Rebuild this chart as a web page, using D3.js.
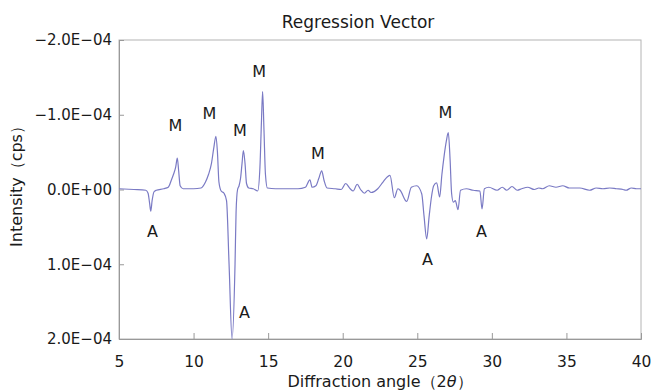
<!DOCTYPE html>
<html>
<head>
<meta charset="utf-8">
<script src="https://cdn.jsdelivr.net/npm/d3@7"></script>
<style>
  body { margin: 0; background: #fff; }
  text { font-family: "DejaVu Sans", sans-serif; fill: #1a1a1a; }
</style>
</head>
<body>
<div id="chart"></div>
<script>
// diffraction angle (2 theta) and regression coefficient
const angles = [
  5.0, 6.0, 6.8, 6.95, 7.05, 7.13, 7.22, 7.35, 7.5, 8.0,
  8.3, 8.5, 8.65, 8.8, 8.91, 9.0, 9.1, 9.3, 10.0, 10.5,
  10.8, 11.0, 11.2, 11.35, 11.5, 11.6, 11.7, 11.85, 12.04, 12.21,
  12.38, 12.58, 12.78, 12.85, 12.95, 13.05, 13.15, 13.25, 13.34, 13.45,
  13.55, 13.7, 14.0, 14.3, 14.45, 14.55, 14.63, 14.72, 14.82, 14.95,
  15.5, 17.0, 17.5, 17.8, 17.95, 18.2, 18.4, 18.59, 18.75, 18.95,
  19.5, 19.9, 20.2, 20.5, 20.7, 20.97, 21.2, 21.46, 21.7, 21.9,
  22.35, 22.7, 23.0, 23.17, 23.46, 23.7, 23.85, 24.29, 24.6, 24.96,
  25.3, 25.45, 25.63, 25.8, 25.95, 26.1, 26.3, 26.5, 26.65, 26.8,
  26.95, 27.08, 27.2, 27.3, 27.42, 27.55, 27.73, 27.9, 28.3, 28.75,
  29.2, 29.34, 29.5, 29.8, 30.35, 30.7, 31.0, 31.35, 31.7, 32.0,
  32.4, 32.85, 33.15, 33.4, 33.85, 34.3, 34.75, 35.2, 35.9, 36.55,
  37.0, 37.45, 37.9, 38.35, 38.8, 39.0, 39.35, 39.7, 40.0
];
const intensity = [
  -0.01e-4, 0.0, 0.01e-4, 0.05e-4, 0.18e-4, 0.29e-4, 0.15e-4, 0.03e-4, 0.01e-4, -0.01e-4,
  -0.03e-4, -0.12e-4, -0.2e-4, -0.3e-4, -0.42e-4, -0.25e-4, -0.05e-4, -0.01e-4, -0.01e-4, -0.02e-4,
  -0.1e-4, -0.2e-4, -0.35e-4, -0.55e-4, -0.71e-4, -0.5e-4, -0.1e-4, 0.02e-4, 0.05e-4, 0.15e-4,
  1.0e-4, 2.0e-4, 1.0e-4, 0.3e-4, 0.0, -0.05e-4, -0.15e-4, -0.35e-4, -0.52e-4, -0.35e-4,
  -0.08e-4, -0.02e-4, -0.01e-4, 0.02e-4, -0.3e-4, -0.9e-4, -1.31e-4, -0.8e-4, -0.2e-4, -0.02e-4,
  -0.01e-4, -0.01e-4, -0.03e-4, -0.13e-4, -0.03e-4, -0.05e-4, -0.15e-4, -0.25e-4, -0.12e-4, -0.02e-4,
  -0.01e-4, 0.0, -0.08e-4, -0.01e-4, 0.02e-4, -0.07e-4, 0.0, 0.05e-4, 0.01e-4, 0.04e-4,
  -0.01e-4, -0.1e-4, -0.17e-4, -0.19e-4, 0.11e-4, -0.01e-4, 0.01e-4, 0.16e-4, -0.03e-4, -0.05e-4,
  0.06e-4, 0.35e-4, 0.66e-4, 0.35e-4, 0.1e-4, -0.05e-4, -0.09e-4, 0.1e-4, -0.2e-4, -0.45e-4,
  -0.65e-4, -0.76e-4, -0.4e-4, 0.05e-4, 0.17e-4, 0.15e-4, 0.27e-4, 0.01e-4, -0.01e-4, 0.01e-4,
  0.02e-4, 0.26e-4, -0.01e-4, -0.03e-4, 0.01e-4, -0.03e-4, 0.01e-4, -0.04e-4, 0.01e-4, -0.01e-4,
  -0.03e-4, 0.0, -0.02e-4, -0.01e-4, -0.05e-4, -0.03e-4, -0.05e-4, -0.02e-4, -0.02e-4, 0.01e-4,
  -0.02e-4, -0.01e-4, -0.02e-4, -0.01e-4, 0.0, 0.01e-4, -0.02e-4, -0.01e-4, -0.01e-4
];

// peak labels (M / A) with the spot they sit at
const peakLabels = ["M", "M", "M", "M", "M", "M", "A", "A", "A", "A"];
const peakAngles = [8.79, 11.07, 13.11, 14.39, 18.34, 26.89, 7.25, 13.41, 25.69, 29.31];
const peakValues = [-0.787e-4, -0.947e-4, -0.72e-4, -1.507e-4, -0.413e-4, -0.96e-4, 0.64e-4, 1.72e-4, 1.013e-4, 0.64e-4];

const xTicks = [5, 10, 15, 20, 25, 30, 35, 40];
const yTicks = [-2e-4, -1e-4, 0, 1e-4, 2e-4];

const width = 651, height = 391;
const margin = {top: 40, right: 10, bottom: 52, left: 119};

const x = d3.scaleLinear().domain([5, 40]).range([margin.left, width - margin.right]);
const y = d3.scaleLinear().domain([-2e-4, 2e-4]).range([margin.top, height - margin.bottom]);

const svg = d3.select("#chart").append("svg")
    .attr("width", width)
    .attr("height", height);

const data = angles.map((a, i) => ({a, v: intensity[i]}));

// frame
svg.append("rect")
    .attr("x", x(5)).attr("y", y(-2e-4))
    .attr("width", x(40) - x(5)).attr("height", y(2e-4) - y(-2e-4))
    .attr("fill", "none").attr("stroke", "#b4b4b4").attr("stroke-width", 1);

function sci(d) {
  if (d === 0) return "0.0E+00";
  return (d < 0 ? "\u2212" : "") + (Math.abs(d) / 1e-4).toFixed(1) + "E\u221204";
}

svg.append("g")
    .attr("transform", `translate(0,${y(2e-4)})`)
    .call(d3.axisBottom(x).tickValues(xTicks).tickSize(-6).tickPadding(17).tickFormat(d3.format("d")))
    .call(g => g.select(".domain").attr("stroke", "#999"))
    .call(g => g.selectAll("line").attr("stroke", "#999"))
    .call(g => g.selectAll("text").attr("font-size", "15.5px").attr("font-family", "DejaVu Sans").attr("fill", "#1a1a1a"));

svg.append("g")
    .attr("transform", `translate(${x(5)},0)`)
    .call(d3.axisLeft(y).tickValues(yTicks).tickSize(-5).tickPadding(7).tickFormat(sci))
    .call(g => g.select(".domain").attr("stroke", "#999"))
    .call(g => g.selectAll("line").attr("stroke", "#999"))
    .call(g => g.selectAll("text").attr("font-size", "15px").attr("font-family", "DejaVu Sans").attr("fill", "#1a1a1a"));

// regression vector line
svg.append("clipPath").attr("id", "clip")
  .append("rect")
    .attr("x", x(5)).attr("y", y(-2e-4))
    .attr("width", x(40) - x(5)).attr("height", y(2e-4) - y(-2e-4));

svg.append("path")
    .datum(data)
    .attr("clip-path", "url(#clip)")
    .attr("fill", "none")
    .attr("stroke", "#7a7ac4")
    .attr("stroke-width", 1.2)
    .attr("stroke-linejoin", "round")
    .attr("d", d3.line().x(d => x(d.a)).y(d => y(d.v)).curve(d3.curveMonotoneX));

// M / A annotations
svg.selectAll("text.peak")
  .data(peakLabels.map((t, i) => ({t, a: peakAngles[i], v: peakValues[i]})))
  .join("text")
    .attr("class", "peak")
    .attr("x", d => x(d.a))
    .attr("y", d => y(d.v))
    .attr("text-anchor", "middle")
    .attr("font-size", "16px")
    .attr("font-weight", 500)
    .text(d => d.t);

// title
svg.append("text")
    .attr("x", 358).attr("y", 28)
    .attr("text-anchor", "middle")
    .attr("font-size", "17px")
    .text("Regression Vector");

// axis titles
const xl = svg.append("text")
    .attr("x", (x(5) + x(40)) / 2).attr("y", 387)
    .attr("text-anchor", "middle")
    .attr("font-size", "16px");
xl.append("tspan").text("Diffraction angle\uFF082");
xl.append("tspan").attr("font-style", "italic").text("\u03B8");
xl.append("tspan").text("\uFF09");

svg.append("text")
    .attr("transform", `translate(22,${(y(-2e-4) + y(2e-4)) / 2 - 7}) rotate(-90)`)
    .attr("text-anchor", "middle")
    .attr("font-size", "16px")
    .text("Intensity\uFF08cps\uFF09");
</script>
</body>
</html>
